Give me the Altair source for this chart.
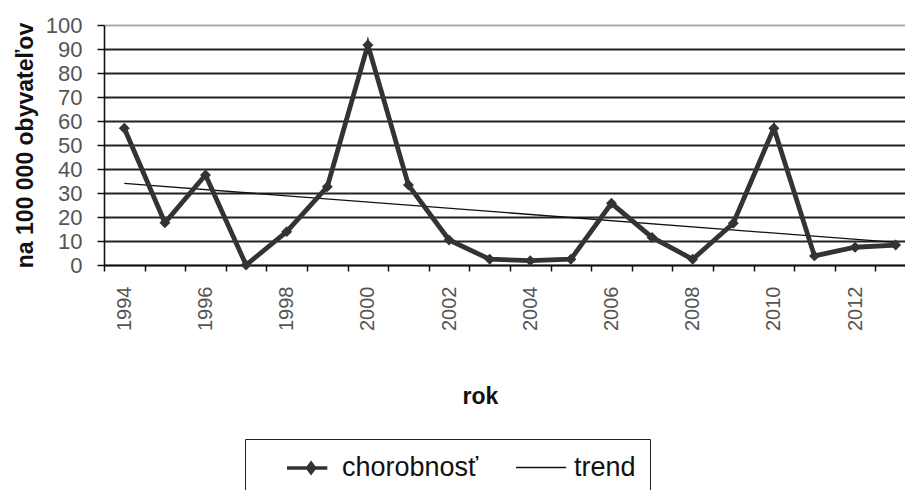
import altair as alt
import pandas as pd

# Incidence per 100 000 inhabitants, by year
years = list(range(1994, 2014))
incidence = [57, 17.6, 37.5, 0, 13.9, 32.6, 91.7, 33.3, 10.4, 2.4,
             1.8, 2.4, 25.7, 11.5, 2.4, 17.4, 57, 3.8, 7.4, 8.3]
series_names = ["chorobnosť", "trend"]
y_ticks = list(range(0, 101, 10))
x_label_years = list(range(1994, 2013, 2))
x_tick_bounds = [y - 0.5 for y in years]  # category boundaries for tick marks

df = pd.DataFrame({"rok": years, "hodnota": incidence, "rad": series_names[0]})

FONT = "Liberation Sans"
INK = "#333333"

x_enc = alt.X(
    "rok:Q",
    scale=alt.Scale(domain=[1993.5, 2013.23], nice=False, zero=False),
    axis=alt.Axis(
        title="rok",
        values=sorted(x_label_years + x_tick_bounds),
        labelExpr="datum.value % 2 == 0 ? datum.value : ''",
        labelAngle=-90,
        labelFont=FONT,
        labelFontSize=20,
        labelColor="#555555",
        labelPadding=15,
        labelOverlap=False,
        tickSize=6,
        tickColor="#111111",
        tickWidth=1.5,
        tickOpacity={"condition": {"test": "datum.value % 1 == 0", "value": 0}, "value": 1},
        domainColor="#111111",
        domainWidth=1.6,
        grid=False,
        titleFont=FONT,
        titleFontSize=23,
        titleFontWeight="bold",
        titleColor="#111111",
        titleX=376,
        titleY=131,
        titleAlign="center",
        titleBaseline="middle",
    ),
)

y_enc = alt.Y(
    "hodnota:Q",
    scale=alt.Scale(domain=[0, 100], nice=False),
    axis=alt.Axis(
        title="na 100 000 obyvateľov",
        values=y_ticks,
        labelFont=FONT,
        labelFontSize=22,
        labelColor="#555555",
        labelPadding=15,
        tickSize=7,
        tickColor="#111111",
        tickWidth=1.5,
        domainColor="#111111",
        domainWidth=1.6,
        grid=True,
        gridColor={"condition": {"test": "datum.value === 100", "value": "#aaaaaa"}, "value": "#222222"},
        gridWidth=1.8,
        titleFont=FONT,
        titleFontSize=23,
        titleFontWeight="bold",
        titleColor="#111111",
        titleX=-79,
        titleY=120,
        titleAlign="center",
        titleBaseline="middle",
        titleAngle=-90,
    ),
)

# Legend symbols: a thick line with a diamond, and a thin line
symbol_paths = ["M1,0H4.1M2.85,-0.36L3.12,0L2.85,0.36L2.58,0Z", "M0.7,0H4.55"]

legend = alt.Legend(
    title=None,
    orient="none",
    legendX=141,
    legendY=414,
    direction="horizontal",
    strokeColor="#222222",
    fillColor="white",
    padding=14,
    symbolSize=676,
    labelOffset=53,
    columnPadding=14,
    labelFont=FONT,
    labelFontSize=27,
    labelColor="#111111",
)

line = alt.Chart(df).mark_line(strokeWidth=4.8, color=INK).encode(x=x_enc, y=y_enc)

points = alt.Chart(df).mark_point(
    shape="diamond", filled=True, size=120, color=INK, opacity=1
).encode(x=x_enc, y=y_enc)

trend = (
    alt.Chart(df)
    .transform_regression("rok", "hodnota")
    .mark_line(strokeWidth=1.3, color="#111111")
    .encode(x=x_enc, y=y_enc)
)

# Key layer: carries the series scales that build the legend
key = (
    alt.Chart(df)
    .transform_filter("false")
    .mark_point(filled=False, opacity=1)
    .encode(
        shape=alt.Shape("rad:N", scale=alt.Scale(domain=series_names, range=symbol_paths), legend=legend),
        color=alt.Color("rad:N", scale=alt.Scale(domain=series_names, range=[INK, "#111111"]), legend=legend),
        strokeWidth=alt.StrokeWidth("rad:N", scale=alt.Scale(domain=series_names, range=[3.5, 1.3]), legend=legend),
    )
)

chart = (
    alt.layer(trend, line, points, key)
    .properties(
        width=801,
        height=240,
        padding={"left": 104, "top": 25, "right": 0, "bottom": 225},
        autosize=alt.AutoSizeParams(type="none"),
        background="white",
    )
    .configure_view(stroke=None)
)

chart.save("out.html", embed_options={"renderer": "svg", "actions": False})
